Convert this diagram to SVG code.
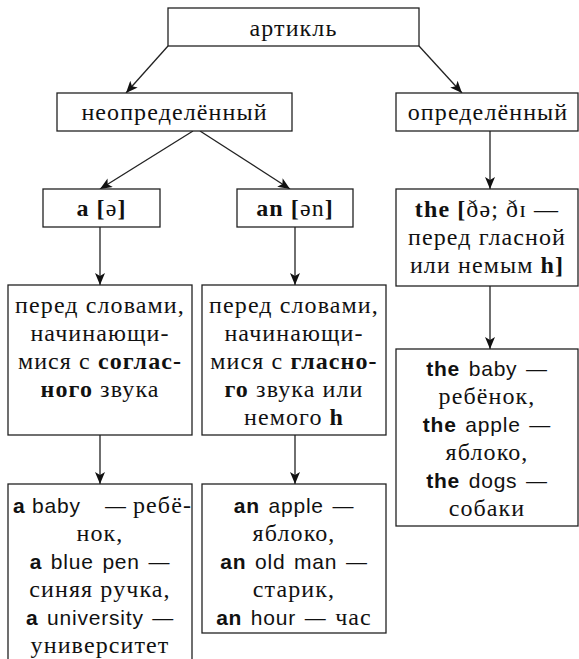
<svg xmlns="http://www.w3.org/2000/svg" width="579" height="659" viewBox="0 0 579 659">
<style>
.box{fill:#fff;stroke:#222;stroke-width:1.3}
.con line{stroke:#222;stroke-width:1.3;marker-end:url(#ah)}
</style>
<defs>
<marker id="ah" viewBox="0 0 12 10" refX="12" refY="5" markerWidth="12" markerHeight="10" markerUnits="userSpaceOnUse" orient="auto">
<path d="M0,0 L12,5 L0,10 L3,5 z" fill="#111"/>
</marker>
</defs>
<rect width="579" height="659" fill="#fff"/>
<g id="connectors" class="con">
<line x1="168" y1="46" x2="126" y2="93"/>
<line x1="419" y1="46" x2="462" y2="93"/>
<line x1="193" y1="131" x2="100" y2="189"/>
<line x1="200" y1="131" x2="290" y2="189"/>
<line x1="100" y1="227" x2="100" y2="285"/>
<line x1="295" y1="227" x2="295" y2="285"/>
<line x1="490" y1="131" x2="490" y2="189"/>
<line x1="490" y1="286" x2="490" y2="349"/>
<line x1="100" y1="435" x2="100" y2="484"/>
<line x1="295" y1="435" x2="295" y2="484"/>
</g>
<g id="article">
<rect class="box" x="168" y="8" width="251" height="38"/>
<text font-family="Liberation Serif, serif" font-size="24" letter-spacing="1.1" text-anchor="middle" fill="#111" x="293.5" y="36">артикль</text>
</g>
<g id="indefinite">
<rect class="box" x="57" y="93" width="235" height="38"/>
<text font-family="Liberation Serif, serif" font-size="24" letter-spacing="1.1" text-anchor="middle" fill="#111" x="174.5" y="120">неопределённый</text>
</g>
<g id="definite">
<rect class="box" x="396" y="93" width="182" height="38"/>
<text font-family="Liberation Serif, serif" font-size="24" letter-spacing="1.1" text-anchor="middle" fill="#111" x="488" y="120">определённый</text>
</g>
<g id="a">
<rect class="box" x="43" y="189" width="117" height="38"/>
<text font-family="Liberation Serif, serif" font-size="24" letter-spacing="1.1" text-anchor="middle" fill="#111" x="101.5" y="216"><tspan font-weight="bold">a [</tspan>ə<tspan font-weight="bold">]</tspan></text>
</g>
<g id="an">
<rect class="box" x="237" y="189" width="116" height="38"/>
<text font-family="Liberation Serif, serif" font-size="24" letter-spacing="1.1" text-anchor="middle" fill="#111" x="295" y="216"><tspan font-weight="bold">an [</tspan>ən<tspan font-weight="bold">]</tspan></text>
</g>
<g id="the">
<rect class="box" x="396" y="189" width="182" height="97"/>
<text font-family="Liberation Serif, serif" font-size="24" letter-spacing="1.1" text-anchor="middle" fill="#111" x="487" y="217"><tspan font-weight="bold">the [</tspan>ðə; ðɪ —</text>
<text font-family="Liberation Serif, serif" font-size="24" letter-spacing="1.1" text-anchor="middle" fill="#111" x="487" y="245">перед гласной</text>
<text font-family="Liberation Serif, serif" font-size="24" letter-spacing="1.1" text-anchor="middle" fill="#111" x="487" y="273">или немым <tspan font-weight="bold">h]</tspan></text>
</g>
<g id="a-rule">
<rect class="box" x="8" y="285" width="184" height="150"/>
<text font-family="Liberation Serif, serif" font-size="24" letter-spacing="1.1" text-anchor="middle" fill="#111" x="100" y="313">перед словами,</text>
<text font-family="Liberation Serif, serif" font-size="24" letter-spacing="1.1" text-anchor="middle" fill="#111" x="100" y="341">начинающи-</text>
<text font-family="Liberation Serif, serif" font-size="24" letter-spacing="1.1" text-anchor="middle" fill="#111" x="100" y="369">мися с <tspan font-weight="bold">соглас-</tspan></text>
<text font-family="Liberation Serif, serif" font-size="24" letter-spacing="1.1" text-anchor="middle" fill="#111" x="100" y="397"><tspan font-weight="bold">ного</tspan> звука</text>
</g>
<g id="an-rule">
<rect class="box" x="202" y="285" width="184" height="150"/>
<text font-family="Liberation Serif, serif" font-size="24" letter-spacing="1.1" text-anchor="middle" fill="#111" x="294" y="313">перед словами,</text>
<text font-family="Liberation Serif, serif" font-size="24" letter-spacing="1.1" text-anchor="middle" fill="#111" x="294" y="341">начинающи-</text>
<text font-family="Liberation Serif, serif" font-size="24" letter-spacing="1.1" text-anchor="middle" fill="#111" x="294" y="369">мися с <tspan font-weight="bold">гласно-</tspan></text>
<text font-family="Liberation Serif, serif" font-size="24" letter-spacing="1.1" text-anchor="middle" fill="#111" x="294" y="397"><tspan font-weight="bold">го</tspan> звука или</text>
<text font-family="Liberation Serif, serif" font-size="24" letter-spacing="1.1" text-anchor="middle" fill="#111" x="294" y="425">немого <tspan font-weight="bold">h</tspan></text>
</g>
<g id="a-examples">
<rect class="box" x="8" y="484" width="184" height="185"/>
<text font-family="Liberation Serif, serif" font-size="24" letter-spacing="1.1" fill="#111" y="513"><tspan font-family="Liberation Sans, sans-serif" font-size="21" letter-spacing="0.8" x="13"><tspan font-weight="bold">a</tspan> baby</tspan><tspan font-family="Liberation Sans, sans-serif" font-size="21" x="105">—</tspan><tspan x="133">ребё-</tspan></text>
<text font-family="Liberation Serif, serif" font-size="24" letter-spacing="1.1" text-anchor="middle" fill="#111" x="100" y="541">нок,</text>
<text font-family="Liberation Serif, serif" font-size="24" letter-spacing="1.1" text-anchor="middle" fill="#111" x="100" y="569"><tspan font-family="Liberation Sans, sans-serif" font-size="21" letter-spacing="0.8" word-spacing="2"><tspan font-weight="bold">a</tspan> blue pen —</tspan></text>
<text font-family="Liberation Serif, serif" font-size="24" letter-spacing="1.1" text-anchor="middle" fill="#111" x="100" y="597">синяя ручка,</text>
<text font-family="Liberation Serif, serif" font-size="24" letter-spacing="1.1" text-anchor="middle" fill="#111" x="100" y="625"><tspan font-family="Liberation Sans, sans-serif" font-size="21" letter-spacing="0.8" word-spacing="2"><tspan font-weight="bold">a</tspan> university —</tspan></text>
<text font-family="Liberation Serif, serif" font-size="24" letter-spacing="1.1" text-anchor="middle" fill="#111" x="100" y="653">университет</text>
</g>
<g id="an-examples">
<rect class="box" x="202" y="484" width="184" height="149"/>
<text font-family="Liberation Serif, serif" font-size="24" letter-spacing="1.1" text-anchor="middle" fill="#111" x="294" y="513"><tspan font-family="Liberation Sans, sans-serif" font-size="21" letter-spacing="0.8" word-spacing="2"><tspan font-weight="bold">an</tspan> apple —</tspan></text>
<text font-family="Liberation Serif, serif" font-size="24" letter-spacing="1.1" text-anchor="middle" fill="#111" x="294" y="541">яблоко,</text>
<text font-family="Liberation Serif, serif" font-size="24" letter-spacing="1.1" text-anchor="middle" fill="#111" x="294" y="569"><tspan font-family="Liberation Sans, sans-serif" font-size="21" letter-spacing="0.8" word-spacing="2"><tspan font-weight="bold">an</tspan> old man —</tspan></text>
<text font-family="Liberation Serif, serif" font-size="24" letter-spacing="1.1" text-anchor="middle" fill="#111" x="294" y="597">старик,</text>
<text font-family="Liberation Serif, serif" font-size="24" letter-spacing="1.1" text-anchor="middle" fill="#111" x="294" y="625"><tspan font-family="Liberation Sans, sans-serif" font-size="21" letter-spacing="0.8" word-spacing="2"><tspan font-weight="bold">an</tspan> hour — </tspan>час</text>
</g>
<g id="the-examples">
<rect class="box" x="396" y="349" width="182" height="177"/>
<text font-family="Liberation Serif, serif" font-size="24" letter-spacing="1.1" text-anchor="middle" fill="#111" x="487" y="376"><tspan font-family="Liberation Sans, sans-serif" font-size="21" letter-spacing="0.8" word-spacing="2"><tspan font-weight="bold">the</tspan> baby —</tspan></text>
<text font-family="Liberation Serif, serif" font-size="24" letter-spacing="1.1" text-anchor="middle" fill="#111" x="487" y="404">ребёнок,</text>
<text font-family="Liberation Serif, serif" font-size="24" letter-spacing="1.1" text-anchor="middle" fill="#111" x="487" y="432"><tspan font-family="Liberation Sans, sans-serif" font-size="21" letter-spacing="0.8" word-spacing="2"><tspan font-weight="bold">the</tspan> apple —</tspan></text>
<text font-family="Liberation Serif, serif" font-size="24" letter-spacing="1.1" text-anchor="middle" fill="#111" x="487" y="460">яблоко,</text>
<text font-family="Liberation Serif, serif" font-size="24" letter-spacing="1.1" text-anchor="middle" fill="#111" x="487" y="488"><tspan font-family="Liberation Sans, sans-serif" font-size="21" letter-spacing="0.8" word-spacing="2"><tspan font-weight="bold">the</tspan> dogs —</tspan></text>
<text font-family="Liberation Serif, serif" font-size="24" letter-spacing="1.1" text-anchor="middle" fill="#111" x="487" y="516">собаки</text>
</g>
</svg>
